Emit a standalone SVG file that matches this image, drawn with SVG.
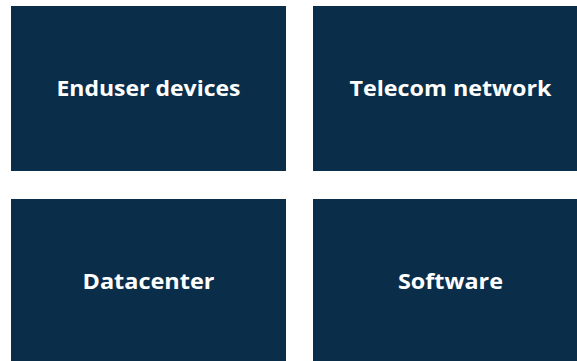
<svg xmlns="http://www.w3.org/2000/svg" width="577" height="361" viewBox="0 0 577 361">
<style>
.box{fill:#0a2e4a}
.lbl{fill:#ffffff;font-family:"Open Sans","Liberation Sans",sans-serif;font-weight:bold;font-size:22px;text-anchor:middle}
</style>
<rect width="577" height="361" fill="#ffffff"/>
<g id="enduser-devices"><rect class="box" x="11" y="6" width="275" height="165"/><text class="lbl" x="148.5" y="95.5" textLength="184" lengthAdjust="spacingAndGlyphs">Enduser devices</text></g>
<g id="telecom-network"><rect class="box" x="313" y="6" width="275" height="165"/><text class="lbl" x="450.5" y="95.5" textLength="202" lengthAdjust="spacingAndGlyphs">Telecom network</text></g>
<g id="datacenter"><rect class="box" x="11" y="199" width="275" height="165"/><text class="lbl" x="148.5" y="288.5" textLength="132" lengthAdjust="spacingAndGlyphs">Datacenter</text></g>
<g id="software"><rect class="box" x="313" y="199" width="275" height="165"/><text class="lbl" x="450.5" y="288.5" textLength="105" lengthAdjust="spacingAndGlyphs">Software</text></g>
<g id="connectors"></g>
</svg>
